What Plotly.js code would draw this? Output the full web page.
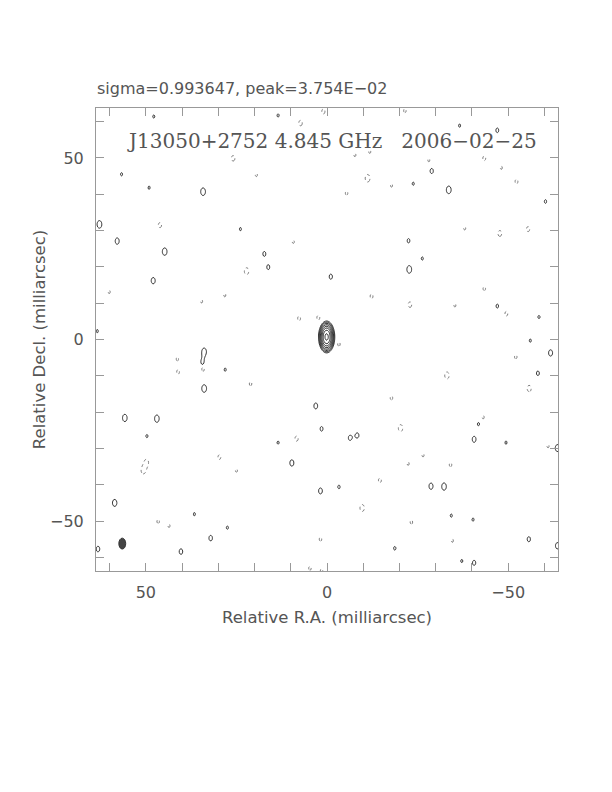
<!DOCTYPE html>
<html><head><meta charset="utf-8">
<script src="https://cdn.plot.ly/plotly-3.0.1.min.js"></script>
<style>html,body{margin:0;padding:0;background:#fff}</style>
</head><body>
<div id="chart" style="width:612px;height:792px"></div>
<script>
// ---- map statistics (from header) ----
const SIGMA = 0.993647;            // rms, mJy/beam
const PEAK = 37.54;                // mJy/beam
const LOWEST = 3;                  // lowest contour, in sigma
// ---- restoring beam (mas, FWHM) and where it is drawn ----
const beamMaj = 3.0, beamMin = 1.9, beamX = 56.5, beamY = -56.2;
// ---- core component ----
const coreX = [0.1], coreY = [0.7], coreFlux = [PEAK], coreSigX = [1.0], coreSigY = [1.95];
// ---- positive islands: RA offset, Dec offset (mas), peak (in sigma) ----
const posX = [34.2, 62.8, 57.9, 44.8, 47.96, 17.3, 16.2, -1.05, -28.9, -33.6, -22.5, -22.7, -26.3, -60.3, -47.0, -61.7, -58.2, -63.6, 33.9, 34.4, 33.9, 55.8, 46.95, 3.1, 1.5, -6.3, -8.4, -40.6, 9.7, 1.8, -28.7, -32.3, 58.6, 32.1, 40.3, 63.2, -55.7, -63.6, -40.6, -18.7, -3.3, -47.0,
  47.8, 13.5, -36.6, 56.7, 49.1, 23.9, -23.8, 28.1, 49.7, 36.6, -41.8, -49.4, -34.3, -40.3, -37.2, 27.5, 63.4, -58.5, -56.1, 13.5];
const posY = [40.7, 31.7, 27.1, 24.2, 16.2, 23.6, 19.9, 17.3, 46.4, 41.2, 27.2, 19.3, 22.3, 38.0, 9.2, -3.7, -9.3, -29.9, -3.3, -6.3, -13.5, -21.6, -21.8, -18.3, -24.6, -27.1, -26.4, -27.5, -34.0, -41.7, -40.4, -40.5, -45.0, -54.7, -58.4, -57.7, -55.0, -56.8, -61.5, -57.5, -40.6, 57.6,
  61.4, 61.7, 58.9, 45.5, 41.8, 30.4, 42.9, -8.3, -26.6, -48.1, -23.3, -28.4, -48.5, -49.6, -61.0, -51.8, 2.3, 6.2, -0.3, -28.4];
const posSnr = [4.2, 4.2, 3.8, 4.15, 3.8, 3.4, 3.4, 3.5, 3.5, 4.2, 3.35, 4.2, 3.2, 3.25, 3.3, 3.8, 3.4, 4.0, 3.95, 3.25, 4.2, 4.1, 4.1, 3.7, 3.4, 3.4, 3.4, 3.7, 3.8, 3.7, 3.8, 4.1, 4.0, 3.6, 3.6, 3.6, 3.5, 3.8, 3.5, 3.25, 3.25, 3.4,
  3.2, 3.2, 3.2, 3.2, 3.2, 3.2, 3.2, 3.2, 3.2, 3.2, 3.2, 3.2, 3.2, 3.2, 3.2, 3.2, 3.2, 3.2, 3.2, 3.2];
// ---- negative islands: RA, Dec (mas), depth (in sigma) ----
const negX = [7.3, 1.0, 25.9, -11.2, -5.4, -43.4, -52.3, 46.1, -47.7, -55.5, 22.2, 9.3, -22.9, -12.3, -43.4, -49.5, 7.7, 2.4, -3.3, 41.1, 41.3, 34.2, 21.1, -33.1, -52.1, -55.8, -17.8, -20.3, 8.4, 29.7, 25.0, 49.8, 50.7, -14.6, -34.1, -26.5, -22.4, -9.7, -23.3, 46.6, -34.6, 1.8, 4.7, 1.5, 34.6, 28.2, 60.1, -35.3, -38.0, -28.1, -21.5, -11.8, -7.7, 19.5, -17.8, -48.1, -61.0, 43.6, -43.1];
const negY = [59.6, 62.8, 49.9, 44.4, 40.3, 49.9, 43.5, 31.5, 29.2, 30.4, 18.8, 26.9, 9.6, 11.9, 14.0, 7.1, 5.8, 6.0, -1.3, -9.0, -5.3, -8.2, -12.2, -9.9, -4.8, -13.5, -16.1, -24.4, -27.3, -32.4, -36.1, -33.8, -36.1, -38.8, -34.5, -31.9, -34.2, -46.4, -50.3, -50.1, -55.4, -55.0, -63.0, -63.7, 10.5, 12.2, 13.1, 9.4, 30.6, 49.4, 63.0, 51.7, 50.8, 45.3, 42.4, 47.3, -29.4, -51.3, -21.4];
const negSnr = [3.6, 3.5, 3.6, 4.2, 3.3, 3.4, 3.4, 3.5, 3.7, 3.5, 4.0, 3.2, 3.6, 3.4, 3.3, 3.4, 3.4, 3.4, 3.3, 3.3, 3.2, 3.3, 3.3, 4.0, 3.3, 3.8, 3.3, 4.0, 3.5, 3.4, 3.2, 3.6, 3.8, 3.4, 3.3, 3.2, 3.2, 4.0, 3.3, 3.3, 3.2, 3.3, 3.3, 3.3, 3.2, 3.2, 3.2, 3.2, 3.2, 3.2, 3.3, 3.2, 3.2, 3.2, 3.2, 3.2, 3.2, 3.2, 3.2];
// ---- axes ----
const tickVals = [-60, -50, -40, -30, -20, -10, 0, 10, 20, 30, 40, 50, 60];
const tickText = ['', '\u221250', '', '', '', '', '0', '', '', '', '', '50', ''];
const HALF = 63.75;

// ---- build the map grid ----
const STEP = 0.25, LIM = 64.5;
const g = [];
for (let v = -LIM; v <= LIM + 1e-9; v += STEP) g.push(+v.toFixed(3));
const N = g.length;
function emptyGrid() { const a = []; for (let i = 0; i < N; i++) a.push(new Float64Array(N)); return a; }
const zPos = emptyGrid(), zNeg = emptyGrid();
function addGauss(z, x0, y0, amp, sx, sy) {
  const i0 = Math.max(0, Math.floor((y0 - 4.5 * sy + LIM) / STEP)), i1 = Math.min(N - 1, Math.ceil((y0 + 4.5 * sy + LIM) / STEP));
  const j0 = Math.max(0, Math.floor((x0 - 4.5 * sx + LIM) / STEP)), j1 = Math.min(N - 1, Math.ceil((x0 + 4.5 * sx + LIM) / STEP));
  for (let i = i0; i <= i1; i++) {
    const dy = (g[i] - y0) / sy;
    for (let j = j0; j <= j1; j++) {
      const dx = (g[j] - x0) / sx;
      z[i][j] += amp * Math.exp(-0.5 * (dx * dx + dy * dy));
    }
  }
}
const bsx = beamMin / 2.3548, bsy = beamMaj / 2.3548;
for (let k = 0; k < coreX.length; k++) addGauss(zPos, coreX[k], coreY[k], coreFlux[k], coreSigX[k], coreSigY[k]);
for (let k = 0; k < posX.length; k++) addGauss(zPos, posX[k], posY[k], posSnr[k] * SIGMA, bsx, bsy);
for (let k = 0; k < negX.length; k++) addGauss(zNeg, negX[k], negY[k], negSnr[k] * SIGMA, bsx, bsy);
// contour levels LOWEST*sigma * sqrt(2)^n -> work in log2 units
const base = LOWEST * SIGMA;
function toLog(z) { return z.map(r => Array.from(r, v => Math.log2(Math.max(v, 1e-9) / base))); }

const txt = '#555';
const traces = [
  { type: 'contour', x: g, y: g, z: toLog(zPos), showscale: false, hoverinfo: 'skip',
    contours: { coloring: 'lines', start: 0, end: 3.6, size: 0.5 },
    colorscale: [[0, '#2a2a2a'], [1, '#2a2a2a']], line: { width: 1, smoothing: 1 } },
  { type: 'contour', x: g, y: g, z: toLog(zNeg), showscale: false, hoverinfo: 'skip',
    contours: { coloring: 'lines', start: 0, end: 0.5, size: 1 },
    colorscale: [[0, '#777'], [1, '#777']], line: { width: 1, dash: 'dot', smoothing: 1 } }
];
const axisCommon = { tickvals: tickVals, ticktext: tickText, ticks: 'inside', ticklen: 8, tickwidth: 1,
  tickcolor: '#999', showline: true, linecolor: '#999', linewidth: 1, mirror: 'ticks', showgrid: false,
  zeroline: false, tickfont: { family: 'DejaVu Sans', size: 16, color: txt } };
const layout = {
  width: 612, height: 792, paper_bgcolor: '#fff', plot_bgcolor: '#fff', showlegend: false,
  margin: { l: 96, r: 54, t: 108, b: 221 },
  xaxis: Object.assign({}, axisCommon, { range: [HALF, -HALF], ticklabelstandoff: 7,
    title: { text: 'Relative R.A. (milliarcsec)', standoff: 10, font: { family: 'DejaVu Sans', size: 16.5, color: txt } } }),
  yaxis: Object.assign({}, axisCommon, { range: [-HALF, HALF], ticklabelstandoff: 8,
    title: { text: 'Relative Decl. (milliarcsec)', standoff: 0, font: { family: 'DejaVu Sans', size: 16.5, color: txt } } }),
  shapes: [{ type: 'circle', xref: 'x', yref: 'y', x0: beamX + beamMin / 2, x1: beamX - beamMin / 2,
    y0: beamY - beamMaj / 2, y1: beamY + beamMaj / 2, fillcolor: '#444', line: { color: '#333', width: 1 }, layer: 'above' }],
  annotations: [
    { text: 'sigma=0.993647, peak=3.754E\u221202', xref: 'paper', yref: 'paper', x: -0.002, y: 1.043,
      xanchor: 'left', yanchor: 'middle', showarrow: false, font: { family: 'DejaVu Sans', size: 16, color: txt } },
    { text: 'J13050+2752 4.845 GHz\u00a0\u00a0\u00a02006\u221202\u221225', xref: 'paper', yref: 'paper', x: 0.51, y: 0.929,
      xanchor: 'center', yanchor: 'middle', showarrow: false, font: { family: 'DejaVu Serif', size: 20, color: '#555' } }
  ]
};
Plotly.newPlot('chart', traces, layout, { staticPlot: true, displayModeBar: false });
</script>
</body></html>
